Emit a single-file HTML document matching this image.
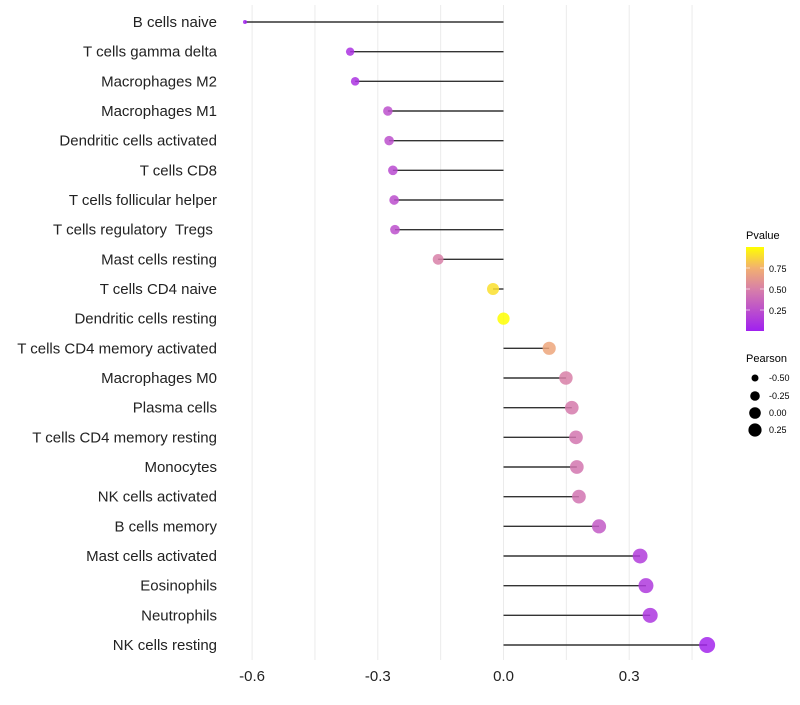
<!DOCTYPE html>
<html><head><meta charset="utf-8"><style>
body{margin:0;background:#fff;font-family:"Liberation Sans",sans-serif}
text{white-space:pre}
</style></head><body>
<svg id="c" width="800" height="700" xmlns="http://www.w3.org/2000/svg">
<defs><linearGradient id="pg" x1="0" y1="1" x2="0" y2="0">
<stop offset="0" stop-color="#a020f0"/><stop offset="0.5" stop-color="#d880a8"/><stop offset="0.75" stop-color="#f2b070"/><stop offset="1" stop-color="#ffff00"/></linearGradient></defs>
<g id="grid"></g><g id="marks"></g><g id="labels"></g>
<g>
<text x="746" y="239" font-size="11">Pvalue</text>
<rect x="746" y="247" width="18" height="84" fill="url(#pg)"/>
<g stroke="#fff" stroke-opacity="0.6"><line x1="746" y1="268" x2="750" y2="268"/><line x1="760" y1="268" x2="764" y2="268"/><line x1="746" y1="289" x2="750" y2="289"/><line x1="760" y1="289" x2="764" y2="289"/><line x1="746" y1="310" x2="750" y2="310"/><line x1="760" y1="310" x2="764" y2="310"/></g>
<text x="769" y="272" font-size="9">0.75</text><text x="769" y="293" font-size="9">0.50</text><text x="769" y="314" font-size="9">0.25</text>
</g>
<g>
<text x="746" y="362" font-size="11">Pearson</text>
<circle cx="755" cy="378" r="3.5"/><text x="769" y="381" font-size="9">-0.50</text>
<circle cx="755" cy="396" r="4.8"/><text x="769" y="399" font-size="9">-0.25</text>
<circle cx="755" cy="413" r="5.8"/><text x="769" y="416" font-size="9">0.00</text>
<circle cx="755" cy="430" r="6.6"/><text x="769" y="433" font-size="9">0.25</text>
</g>
</svg>
<script>
const categories=["B cells naive","T cells gamma delta","Macrophages M2","Macrophages M1","Dendritic cells activated","T cells CD8","T cells follicular helper","T cells regulatory  Tregs ","Mast cells resting","T cells CD4 naive","Dendritic cells resting","T cells CD4 memory activated","Macrophages M0","Plasma cells","T cells CD4 memory resting","Monocytes","NK cells activated","B cells memory","Mast cells activated","Eosinophils","Neutrophils","NK cells resting"];
const pearson=[-0.617,-0.366,-0.354,-0.276,-0.273,-0.264,-0.261,-0.259,-0.156,-0.025,0.0,0.109,0.149,0.163,0.173,0.175,0.180,0.228,0.326,0.340,0.350,0.486];
const pvalues=[0.01,0.1,0.1,0.25,0.25,0.22,0.24,0.25,0.5,0.9,1.0,0.7,0.5,0.47,0.45,0.45,0.44,0.3,0.15,0.13,0.12,0.03];
const xTicks=[-0.6,-0.3,0.0,0.3];
const xTickLabels=["-0.6","-0.3","0.0","0.3"];
const NS="http://www.w3.org/2000/svg";
const x=v=>503.5+v*419;
const y=i=>22+i*29.667;
function mk(t,a,p){const e=document.createElementNS(NS,t);for(const k in a)e.setAttribute(k,a[k]);p.appendChild(e);return e;}
function lerp(a,b,t){return a+(b-a)*t}
function col(p){const s=[[0,[160,32,240]],[0.5,[216,128,168]],[0.75,[242,176,112]],[1,[255,255,0]]];for(let i=1;i<s.length;i++){if(p<=s[i][0]){const t=(p-s[i-1][0])/(s[i][0]-s[i-1][0]);const c=s[i-1][1].map((v,j)=>Math.round(lerp(v,s[i][1][j],t)));return `rgb(${c})`;}}return "rgb(255,255,0)";}
const grid=document.getElementById('grid'),marks=document.getElementById('marks'),labels=document.getElementById('labels');
for(let v=-0.6;v<=0.46;v+=0.15){const g=mk('line',{x1:x(v),x2:x(v),y1:5,y2:660,stroke:'#ebebeb','stroke-width':1},grid);}
xTicks.forEach((v,i)=>{const t=mk('text',{x:x(v),y:681,'font-size':15,'text-anchor':'middle',fill:'#222'},labels);t.textContent=xTickLabels[i];});
const vmin=Math.min(...pearson),vmax=Math.max(...pearson);
categories.forEach((c,i)=>{
 const t=mk('text',{x:217,y:y(i)+5,'font-size':15,'text-anchor':'end',fill:'#222'},labels);t.textContent=c;
 
 const l=mk('line',{x1:x(0),x2:x(pearson[i]),y1:y(i),y2:y(i),stroke:'#333','stroke-width':1.4},marks);
 
 const f=(pearson[i]-vmin)/(vmax-vmin);const r=Math.sqrt(4+f*60);
 const d=mk('circle',{cx:x(pearson[i]),cy:y(i),r:r,fill:col(pvalues[i]),'fill-opacity':0.85},marks);
 
});
</script>
</body></html>
